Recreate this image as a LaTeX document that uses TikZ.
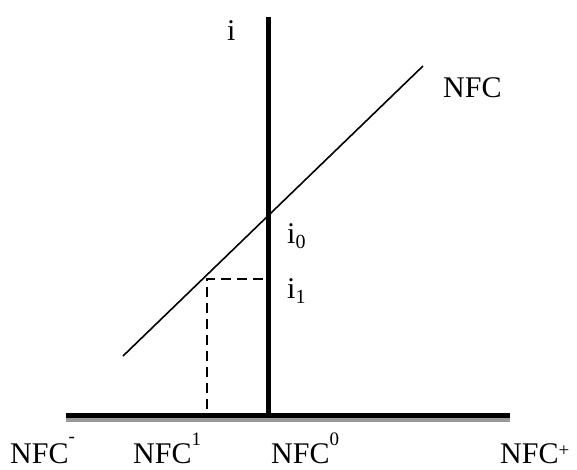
\documentclass[tikz,border=0pt]{standalone}
\usepackage{fontspec}
\setmainfont{Liberation Serif}
\newcommand{\supr}[2]{\raisebox{#1}{\fontsize{19}{19}\selectfont #2}}
\newcommand{\subr}[1]{\raisebox{-5pt}{\fontsize{20}{20}\selectfont #1}}
\begin{document}
\begin{tikzpicture}[x=1pt,y=-1pt,
  lbl/.style={inner sep=0pt, anchor=base west, text depth=0pt, font=\fontsize{30}{36}\selectfont},
  axisline/.style={line width=5pt},
  shadowline/.style={line width=4pt, color=black!40},
  curve/.style={line width=1.6pt},
  guide/.style={line width=1.6pt, dash pattern=on 10pt off 6pt}]
\useasboundingbox (0,0) rectangle (577,469);
% axes
\coordinate (xl) at (66,415.5);
\coordinate (xr) at (510,415.5);
\coordinate (xls) at (66,420);
\coordinate (xrs) at (510,420);
\coordinate (yt) at (268,17);
\coordinate (yb) at (268,418);
\draw[shadowline] (xls) -- (xrs);
\draw[axisline] (xl) -- (xr);
\draw[axisline] (yt) -- (yb);
% NFC line
\coordinate (n1) at (123,356);
\coordinate (n2) at (423,66);
\draw[curve] (n1) -- (n2);
% dashed guides
\coordinate (c1) at (207,279);
\coordinate (c2) at (263,279);
\coordinate (c3) at (207,413);
\draw[guide] (c2) -- (c1) -- (c3);
% labels
\node[lbl] (li) at (227,40) {i};
\node[lbl] (li0) at (287,243) {i\subr{0}};
\node[lbl] (li1) at (287,298) {i\subr{1}};
\node[lbl] (lnfc) at (443,97) {NFC};
\node[lbl] (lm) at (10,463) {NFC\supr{21pt}{-}};
\node[lbl] (l1) at (133,463) {NFC\supr{18pt}{1}};
\node[lbl] (l0) at (271,463) {NFC\supr{18pt}{0}};
\node[lbl] (lp) at (500,463) {NFC\supr{7pt}{+}};
\end{tikzpicture}
\end{document}
